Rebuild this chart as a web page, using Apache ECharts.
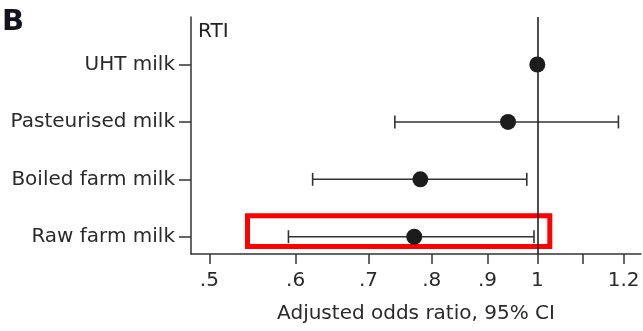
<!DOCTYPE html>
<html>
<head>
<meta charset="utf-8">
<script src="https://cdn.jsdelivr.net/npm/echarts@6/dist/echarts.min.js"></script>
<style>
html,body{margin:0;padding:0;background:#fff;}
#chart{width:643px;height:331px;}
</style>
</head>
<body>
<div id="chart"></div>
<script>
// Data (top to bottom)
const categories = ['UHT milk', 'Pasteurised milk', 'Boiled farm milk', 'Raw farm milk'];
const positions = [4, 3, 2, 1];
const estimates = [1.0, 0.94, 0.781, 0.771];
const lowerCI = [null, 0.740, 0.622, 0.591];
const upperCI = [null, 1.187, 0.978, 0.993];
const tickValues = [0.5, 0.6, 0.7, 0.8, 0.9, 1.0, 1.1, 1.2];
const tickLabels = ['.5', '.6', '.7', '.8', '.9', '1', '', '1.2'];
const xRange = [0.481, 1.245];
const yRange = [0.699, 4.828];
const highlight = { x: [0.542, 1.0268], y: [0.829, 1.365] };

const L = Math.log;
const FONT = 'DejaVu Sans';
const chart = echarts.init(document.getElementById('chart'), null, { renderer: 'canvas' });

const dotData = estimates.map((v, i) => [L(v), positions[i]]);
const errData = [];
lowerCI.forEach((lo, i) => {
  if (lo != null) errData.push([L(lo), L(upperCI[i]), positions[i]]);
});

const option = {
  animation: false,
  backgroundColor: '#fff',
  grid: { left: 191, right: 2, top: 17, bottom: 77 },
  graphic: [
    { type: 'text', left: 2, top: 8, style: { text: 'B', font: 'bold 29px "DejaVu Sans"', fill: '#14141c' } },
    { type: 'text', left: 198, top: 22, style: { text: 'RTI', font: '20px "DejaVu Sans"', fill: '#222' } }
  ],
  xAxis: {
    type: 'value',
    min: L(xRange[0]),
    max: L(xRange[1]),
    splitLine: { show: false },
    axisLine: { show: true, onZero: false, lineStyle: { color: '#333', width: 1.5 } },
    axisTick: { show: true, length: 10, customValues: tickValues.map(L), lineStyle: { color: '#333', width: 1.5 } },
    axisLabel: {
      customValues: tickValues.map(L),
      margin: 17,
      color: '#2a2a2a',
      fontFamily: FONT,
      fontSize: 20,
      formatter: function (v) {
        for (let i = 0; i < tickValues.length; i++) {
          if (Math.abs(L(tickValues[i]) - v) < 1e-6) return tickLabels[i];
        }
        return '';
      }
    },
    name: 'Adjusted odds ratio, 95% CI',
    nameLocation: 'middle',
    nameGap: 50,
    nameTextStyle: { color: '#2a2a2a', fontFamily: FONT, fontSize: 20 }
  },
  yAxis: {
    type: 'value',
    min: yRange[0],
    max: yRange[1],
    splitLine: { show: false },
    axisLine: { show: true, onZero: false, lineStyle: { color: '#333', width: 1.5 } },
    axisTick: { show: true, length: 12, customValues: positions, lineStyle: { color: '#333', width: 1.5 } },
    axisLabel: {
      customValues: positions,
      margin: 16,
      color: '#2a2a2a',
      fontFamily: FONT,
      fontSize: 20,
      formatter: function (v) {
        const i = positions.indexOf(Math.round(v));
        return i >= 0 ? categories[i] : '';
      }
    }
  },
  series: [
    {
      type: 'custom',
      data: errData,
      encode: { x: [0, 1], y: 2 },
      renderItem: function (params, api) {
        const y = api.value(2);
        const p1 = api.coord([api.value(0), y]);
        const p2 = api.coord([api.value(1), y]);
        const h = 6.5;
        const style = { stroke: '#333', lineWidth: 1.6 };
        return {
          type: 'group',
          children: [
            { type: 'line', shape: { x1: p1[0], y1: p1[1], x2: p2[0], y2: p2[1] }, style: style },
            { type: 'line', shape: { x1: p1[0], y1: p1[1] - h, x2: p1[0], y2: p1[1] + h }, style: style },
            { type: 'line', shape: { x1: p2[0], y1: p2[1] - h, x2: p2[0], y2: p2[1] + h }, style: style }
          ]
        };
      },
      z: 2
    },
    {
      type: 'scatter',
      data: dotData,
      symbol: 'circle',
      symbolSize: 16,
      itemStyle: { color: '#1c1c1c', opacity: 1 },
      z: 4,
      markLine: {
        silent: true,
        symbol: 'none',
        label: { show: false },
        lineStyle: { color: '#222', width: 1.6, type: 'solid' },
        data: [{ xAxis: L(1) }]
      },
      markArea: {
        silent: true,
        itemStyle: { color: 'rgba(0,0,0,0)', borderColor: '#ff0000', borderWidth: 5 },
        data: [[
          { xAxis: L(highlight.x[0]), yAxis: highlight.y[0] },
          { xAxis: L(highlight.x[1]), yAxis: highlight.y[1] }
        ]]
      }
    }
  ]
};
chart.setOption(option);
</script>
</body>
</html>
